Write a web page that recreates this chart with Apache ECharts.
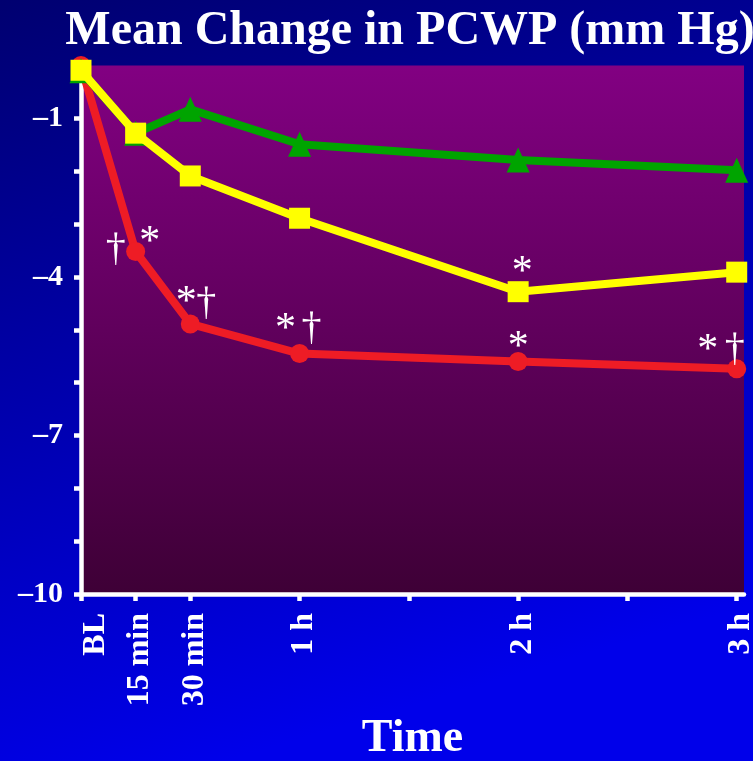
<!DOCTYPE html>
<html>
<head>
<meta charset="utf-8">
<style>
  html, body { margin: 0; padding: 0; background: #000080; }
  #chart { width: 753px; height: 761px; }
</style>
<script src="https://cdn.jsdelivr.net/npm/echarts@6/dist/echarts.min.js"></script>
</head>
<body>
<div id="chart"></div>
<script>
// Time points in minutes after baseline
const timeValues = [0, 15, 30, 60, 120, 180];
const timeLabels = ['BL', '15 min', '30 min', '1 h', '2 h', '3 h'];
const extraTimeTicks = [90, 150];

// Mean change in PCWP (mm Hg) per group
const redValues = [0, -3.52, -4.89, -5.45, -5.60, -5.74];
const yellowValues = [-0.09, -1.28, -2.09, -2.89, -4.28, -3.91];
const greenValues = [-0.10, -1.28, -0.83, -1.49, -1.79, -1.98];

// Y axis ticks and labels
const yTickValues = [-1, -2, -3, -4, -5, -6, -7, -8, -9, -10];
const yLabelValues = [-1, -4, -7, -10];

// Significance markers: [point index, glyph]
const redMarks = [[1, '†'], [1, '*'], [2, '*'], [2, '†'], [3, '*'], [3, '†'], [4, '*'], [5, '*'], [5, '†']];
const yellowMarks = [[4, '*']];

// Glyph offsets from the point centre, in the same order as the marks
const redMarkOffsets = [[-20, -2], [14, -9], [-4, -21], [16, -20], [-14, -24], [12, -25], [0, -13], [-29, -18], [-2, -19]];
const yellowMarkOffsets = [[4, -19]];

const SERIF = "'Liberation Serif', 'Times New Roman', serif";

function pairs(values) {
  return timeValues.map((t, i) => [t, values[i]]);
}

function marks(list, offsets, values) {
  return list.map(([idx, glyph], k) => ({
    coord: [timeValues[idx], values[idx]],
    label: {
      formatter: glyph,
      fontSize: glyph === '*' ? 42 : 40,
      offset: offsets[k]
    }
  }));
}

const markBase = {
  symbol: 'circle',
  symbolSize: 1,
  itemStyle: { color: 'rgba(0,0,0,0)' },
  label: {
    show: true,
    position: 'inside',
    color: '#ffffff',
    fontFamily: SERIF,
    fontWeight: 'normal'
  },
  silent: true,
  animation: false
};

// Tick labels sit a little to the right of their ticks; BL more so
const tickLabelStyle = { fontFamily: SERIF, fontWeight: 'bold', fontSize: 32, color: '#ffffff' };

const chart = echarts.init(document.getElementById('chart'), null, { renderer: 'canvas' });

chart.setOption({
  animation: false,
  backgroundColor: new echarts.graphic.LinearGradient(0, 0, 0.3, 1, [
    { offset: 0, color: '#000070' },
    { offset: 1, color: '#0000ea' }
  ]),
  title: {
    text: 'Mean Change in PCWP (mm Hg)',
    left: 405,
    textAlign: 'center',
    top: 3,
    textStyle: { color: '#ffffff', fontFamily: SERIF, fontWeight: 'bold', fontSize: 48 }
  },
  grid: {
    left: 81,
    right: 9,
    top: 65.5,
    bottom: 167,
    outerBoundsMode: 'none',
    containLabel: false,
    show: true,
    borderWidth: 0,
    backgroundColor: new echarts.graphic.LinearGradient(0, 0, 0, 1, [
      { offset: 0, color: '#820082' },
      { offset: 1, color: '#3e0036' }
    ])
  },
  xAxis: {
    type: 'value',
    min: 0,
    max: 182,
    name: 'Time',
    nameLocation: 'middle',
    nameGap: 122,
    nameTextStyle: { color: '#ffffff', fontFamily: SERIF, fontWeight: 'bold', fontSize: 46 },
    splitLine: { show: false },
    axisLine: { show: true, onZero: false, lineStyle: { color: '#ffffff', width: 4.5 } },
    axisTick: {
      show: true,
      length: 7,
      customValues: timeValues.concat(extraTimeTicks),
      lineStyle: { color: '#ffffff', width: 4.5 }
    },
    axisLabel: {
      show: true,
      rotate: 90,
      margin: 19,
      customValues: timeValues,
      formatter: v => {
        const i = timeValues.indexOf(v);
        return (i === 0 ? '{bl|' : '{t|') + timeLabels[i] + '}';
      },
      rich: {
        bl: Object.assign({ padding: [30, 0, 0, 0] }, tickLabelStyle),
        t: Object.assign({ padding: [9, 0, 0, 0] }, tickLabelStyle)
      },
      color: '#ffffff',
      fontFamily: SERIF,
      fontWeight: 'bold',
      fontSize: 32
    }
  },
  yAxis: {
    type: 'value',
    min: -10,
    max: 0,
    splitLine: { show: false },
    axisLine: { show: true, onZero: false, lineStyle: { color: '#ffffff', width: 4.5 } },
    axisTick: {
      show: true,
      length: 7,
      customValues: yTickValues,
      lineStyle: { color: '#ffffff', width: 4.5 }
    },
    axisLabel: {
      show: true,
      margin: 18,
      customValues: yLabelValues,
      formatter: v => '\u2013' + Math.abs(v),
      color: '#ffffff',
      fontFamily: SERIF,
      fontWeight: 'bold',
      fontSize: 30
    }
  },
  series: [
    {
      name: 'red',
      type: 'line',
      data: pairs(redValues),
      symbol: 'circle',
      symbolSize: 19,
      lineStyle: { color: '#ee1c25', width: 8 },
      itemStyle: { color: '#ee1c25' },
      markPoint: Object.assign({}, markBase, { data: marks(redMarks, redMarkOffsets, redValues) }),
      z: 2
    },
    {
      name: 'green',
      type: 'line',
      data: pairs(greenValues),
      symbol: 'triangle',
      symbolSize: [23, 25],
      lineStyle: { color: '#00a400', width: 8 },
      itemStyle: { color: '#00a400' },
      z: 3
    },
    {
      name: 'yellow',
      type: 'line',
      data: pairs(yellowValues),
      symbol: 'rect',
      symbolSize: 21,
      lineStyle: { color: '#ffff00', width: 8 },
      itemStyle: { color: '#ffff00' },
      markPoint: Object.assign({}, markBase, { data: marks(yellowMarks, yellowMarkOffsets, yellowValues) }),
      z: 4
    }
  ]
});
</script>
</body>
</html>
